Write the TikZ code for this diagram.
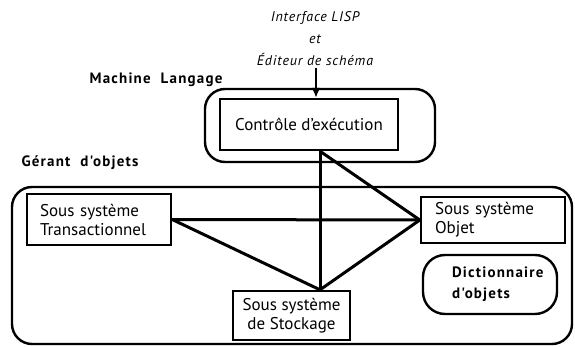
\documentclass[tikz,border=0pt]{standalone}
\usepackage{fontspec}
\setmainfont{PT Sans}
\newfontfamily\spacedfont[LetterSpace=8]{PT Sans}
\newfontfamily\uifont[LetterSpace=6]{PT Sans}
\usetikzlibrary{positioning,arrows.meta}

\begin{document}
\begin{tikzpicture}[x=1pt,y=-1pt,line width=2.4pt,
                    sys node/.style={rectangle,draw,inner sep=0pt,font=\fontsize{17}{19}\selectfont},
                    group box/.style={rectangle,draw,rounded corners=20pt,inner sep=0pt},
                    title/.style={font=\spacedfont\bfseries\fontsize{15}{21}\selectfont},
                    link/.style={line width=3pt}]

  \useasboundingbox (0,0) rectangle (575,347);

  \node[group box,minimum width=230pt,minimum height=73pt] (lang) at (320,125.5) {};
  \node[group box,minimum width=560pt,minimum height=157pt] (mgr) at (292,265.5) {};
  \node[title] (langlabel) at (156,80) {Machine\ \ Langage};
  \node[title] (mgrlabel) at (80,163) {Gérant\ \ d'objets};

  \node[align=center,font=\uifont\itshape\fontsize{14}{22}\selectfont] (ui) at (315,39) {Interface LISP\\et\\Éditeur de schéma};
  \coordinate (in) at (316,68);

  \node[sys node,minimum width=178pt,minimum height=51pt] (ctrl) at (309,124.5) {Contrôle d'exécution};
  \node[sys node,minimum width=144pt,minimum height=51pt,text width=118pt,align=left] (trans) at (99,219.5) {Sous système\\Transactionnel};
  \node[sys node,minimum width=144pt,minimum height=46pt,text width=116pt,align=left] (obj) at (493,220) {Sous système\\Objet};
  \node[sys node,minimum width=117pt,minimum height=49pt,align=center] (stock) at (291.5,315.5) {Sous système\\de Stockage};
  \node[group box,rounded corners=22pt,minimum width=134pt,minimum height=59pt,title,text width=76pt,align=left] (dict) at (490,284.5) {Dictionnaire\\d'objets};

  \draw[-{Latex[length=10pt,width=9pt]}] (in) -- ([xshift=7pt]ctrl.north);

  \path[link]
    ([xshift=11pt]ctrl.south) edge (obj.west)
                              edge ([xshift=28.5pt]stock.north)
    (trans.east) edge (obj.west)
                 edge ([xshift=28.5pt]stock.north)
    (obj.west) edge ([xshift=28.5pt]stock.north);
\end{tikzpicture}
\end{document}
